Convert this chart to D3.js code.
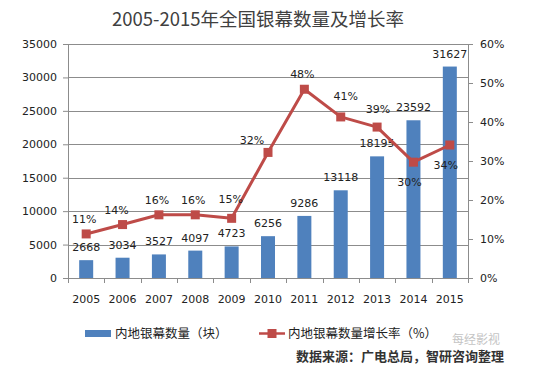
<!DOCTYPE html>
<html>
<head>
<meta charset="utf-8">
<script src="https://cdn.jsdelivr.net/npm/d3@7"></script>
<style>
  body { margin: 0; background: #fff; }
  svg { display: block; }
  text { font-family: "DejaVu Sans", Verdana, sans-serif; fill: #222; }
  .cjk { font-family: "Noto Sans CJK SC", "Noto Sans", sans-serif; }
</style>
</head>
<body>
<svg width="537" height="371"></svg>
<script>
// data
var years = ["2005","2006","2007","2008","2009","2010","2011","2012","2013","2014","2015"];
var screens = [2668, 3034, 3527, 4097, 4723, 6256, 9286, 13118, 18195, 23592, 31627];
var growth = [0.113, 0.137, 0.162, 0.162, 0.153, 0.322, 0.484, 0.413, 0.387, 0.297, 0.341];
var leftTicks = [0, 5000, 10000, 15000, 20000, 25000, 30000, 35000];
var rightTicks = [0, 0.1, 0.2, 0.3, 0.4, 0.5, 0.6];

var margin = {top: 44, left: 68},
    width = 400,
    height = 234;

var barColor = "#4F81BD", lineColor = "#BE4B48", gridColor = "#8c8c8c";

var svg = d3.select("svg");
var g = svg.append("g").attr("transform", "translate(" + margin.left + "," + margin.top + ")");

var x = d3.scaleBand().domain(years).range([0, width]).paddingInner(0.615).paddingOuter(0.3075);
var slot = d3.scaleBand().domain(years).range([0, width]);
var yL = d3.scaleLinear().domain([0, 35000]).range([height, 0]);
var yR = d3.scaleLinear().domain([0, 0.6]).range([height, 0]);

// title
svg.append("text").attr("class", "cjk")
    .attr("x", 258).attr("y", 26)
    .attr("text-anchor", "middle")
    .style("font-size", "18.5px").style("fill", "#404040")
    .text("2005-2015年全国银幕数量及增长率");

// grid
g.selectAll(".grid").data(leftTicks.slice(1)).enter().append("line")
    .attr("x1", 0).attr("x2", width)
    .attr("y1", function(d) { return Math.round(yL(d)) + 0.5; })
    .attr("y2", function(d) { return Math.round(yL(d)) + 0.5; })
    .attr("stroke", gridColor);

// left axis
var axL = g.append("g").call(d3.axisLeft(yL).tickValues(leftTicks).tickSize(5).tickPadding(6).tickFormat(d3.format("d")));
axL.selectAll("text").style("font-size", "11px").style("fill", "#222");
axL.selectAll("line, path").attr("stroke", gridColor);

// right axis
var axR = g.append("g").attr("transform", "translate(" + width + ",0)")
    .call(d3.axisRight(yR).tickValues(rightTicks).tickSize(5).tickPadding(7).tickFormat(d3.format(".0%")));
axR.selectAll("text").style("font-size", "11px").style("fill", "#222");
axR.selectAll("line, path").attr("stroke", gridColor);

// bottom axis: ticks between categories
var axB = g.append("g").attr("transform", "translate(0," + height + ")");
axB.append("line").attr("x1", 0).attr("x2", width).attr("y1", 0.5).attr("y2", 0.5).attr("stroke", gridColor);
axB.selectAll(".tk").data(years.concat(["end"])).enter().append("line")
    .attr("x1", function(d, i) { return Math.round(i * slot.step()) + 0.5; })
    .attr("x2", function(d, i) { return Math.round(i * slot.step()) + 0.5; })
    .attr("y1", 0).attr("y2", 5).attr("stroke", gridColor);
axB.selectAll("text").data(years).enter().append("text")
    .attr("x", function(d) { return slot(d) + slot.bandwidth() / 2; })
    .attr("y", 25)
    .attr("text-anchor", "middle")
    .style("font-size", "11px")
    .text(function(d) { return d; });

// bars
g.selectAll(".bar").data(screens).enter().append("rect")
    .attr("x", function(d, i) { return x(years[i]); })
    .attr("y", function(d) { return yL(d); })
    .attr("width", x.bandwidth())
    .attr("height", function(d) { return height - yL(d); })
    .attr("fill", barColor);

g.selectAll(".barlab").data(screens).enter().append("text")
    .attr("x", function(d, i) { return x(years[i]) + x.bandwidth() / 2; })
    .attr("y", function(d) { return yL(d) - 9; })
    .attr("text-anchor", "middle")
    .style("font-size", "11px")
    .text(function(d) { return d; });

// growth line
var cx = function(d, i) { return slot(years[i]) + slot.bandwidth() / 2; };
var line = d3.line().x(cx).y(function(d) { return yR(d); });
g.append("path").datum(growth)
    .attr("d", line)
    .attr("fill", "none")
    .attr("stroke", lineColor)
    .attr("stroke-width", 3)
    .attr("stroke-linejoin", "round");

g.selectAll(".mk").data(growth).enter().append("rect")
    .attr("x", function(d, i) { return cx(d, i) - 4.5; })
    .attr("y", function(d) { return yR(d) - 4.5; })
    .attr("width", 9).attr("height", 9)
    .attr("fill", lineColor);

// rate labels: mostly above the marker, nudged like the original
var nudge = {
    "2006": [-6, -11], "2009": [-1, -15], "2010": [-16, -8],
    "2012": [5, -17], "2013": [1, -14], "2014": [-4, 24], "2015": [-4, 24]
};
g.selectAll(".ratelab").data(growth).enter().append("text")
    .attr("x", function(d, i) { return cx(d, i) + (nudge[years[i]] ? nudge[years[i]][0] : -2); })
    .attr("y", function(d, i) { return yR(d) + (nudge[years[i]] ? nudge[years[i]][1] : -11); })
    .attr("text-anchor", "middle")
    .style("font-size", "11px")
    .text(function(d) { return d3.format(".0%")(d); });

// legend
var lg = svg.append("g");
lg.append("rect").attr("x", 85).attr("y", 330).attr("width", 26).attr("height", 7).attr("fill", barColor);
lg.append("text").attr("class", "cjk").attr("x", 115).attr("y", 338)
    .style("font-size", "12.5px").text("内地银幕数量（块）");
lg.append("line").attr("x1", 259).attr("x2", 285).attr("y1", 333.5).attr("y2", 333.5)
    .attr("stroke", lineColor).attr("stroke-width", 2.5);
lg.append("rect").attr("x", 267.5).attr("y", 329).attr("width", 9).attr("height", 9).attr("fill", lineColor);
lg.append("text").attr("class", "cjk").attr("x", 288).attr("y", 338)
    .style("font-size", "12.5px").text("内地银幕数量增长率（%）");

// watermark and source
svg.append("text").attr("class", "cjk").attr("x", 452).attr("y", 344)
    .style("font-size", "12px").style("fill", "#c4c4c4").text("每经影视");
svg.append("text").attr("class", "cjk").attr("x", 504).attr("y", 361)
    .attr("text-anchor", "end")
    .style("font-size", "13px").style("font-weight", "bold").style("fill", "#333")
    .text("数据来源：广电总局，智研咨询整理");
</script>
</body>
</html>
